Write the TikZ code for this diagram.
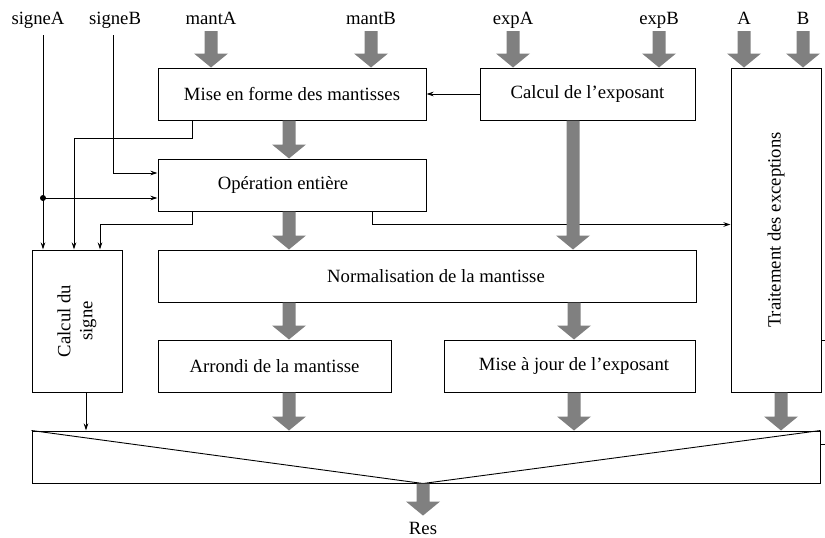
\documentclass[tikz,border=0pt]{standalone}
\usepackage{fontspec}
\setmainfont{Liberation Serif}
\usetikzlibrary{arrows.meta,calc}
\definecolor{fatgray}{RGB}{128,128,128}
\tikzset{
  box/.style={draw, line width=1pt, rectangle, inner sep=0pt, align=center},
  sig/.style={line width=0.9pt},
  sigarrow/.style={sig, -{Stealth[length=7pt,width=4.5pt]}},
  lbl/.style={inner sep=0pt, anchor=base},
  rlbl/.style={inner sep=0pt, rotate=90, align=center},
}
% wide grey data-path arrow pointing down, from #1 to #2
\newcommand{\fatarrow}[2]{%
  \fill[fatgray] let \p1=#1, \p2=#2 in
    (\x1-6.5pt,\y1) -- (\x1+6.5pt,\y1) -- (\x1+6.5pt,\y2+14pt) -- (\x1+17pt,\y2+14pt)
    -- (\x1,\y2) -- (\x1-17pt,\y2+14pt) -- (\x1-6.5pt,\y2+14pt) -- cycle;}
\begin{document}
\begin{tikzpicture}[x=1pt, y=-1pt, font=\fontsize{18.7}{22}\selectfont]
\useasboundingbox (0,0) rectangle (825,538);

% input labels
\node[lbl] (sA)    at (38,24)  {signeA};
\node[lbl] (sB)    at (115,24) {signeB};
\node[lbl] (mantA) at (211,24) {mantA};
\node[lbl] (mantB) at (371,24) {mantB};
\node[lbl] (expA)  at (513,24) {expA};
\node[lbl] (expB)  at (659,24) {expB};
\node[lbl] (inA)   at (744,24) {A};
\node[lbl] (inB)   at (803,24) {B};

% processing blocks
\node[box, minimum width=268pt, minimum height=52pt] (mef)  at (292,94)    {Mise en forme des mantisses};
\node[box, minimum width=215pt, minimum height=52pt] (exp)  at (587.5,94)  {Calcul de l'exposant};
\node[box, minimum width=268pt, minimum height=52pt] (op)   at (292,185)   {Opération entière\hspace*{18pt}};
\node[box, minimum width=90pt,  minimum height=142pt] (sgn) at (77,321)    {};
\node[rlbl] at (sgn.center) {Calcul du\\signe};
\node[box, minimum width=538pt, minimum height=52pt] (norm) at (427,276)   {\hspace*{18pt}Normalisation de la mantisse};
\node[box, minimum width=233pt, minimum height=52pt] (arr)  at (274.5,366) {Arrondi de la mantisse};
\node[box, minimum width=251pt, minimum height=52pt] (maj)  at (569.5,366) {\hspace*{9pt}Mise à jour de l'exposant};
\node[box, minimum width=90pt,  minimum height=324pt] (trait) at (776,230) {};
\node[rlbl] at (trait.center) {Traitement des exceptions};
\node[box, minimum width=788pt, minimum height=52pt] (mux)  at (426,457)   {};
\node[lbl] (res) at (423,534) {Res};

% columns used by the connectors
\coordinate (sAtop) at (43,35);
\coordinate (sBtop) at (113,35);
\coordinate (c74)  at (74,0);
\coordinate (c86)  at (86,0);
\coordinate (c100) at (100,0);
\coordinate (c192) at (192,0);
\coordinate (c372) at (372,0);
\coordinate (xL)   at (289,0);
\coordinate (xR)   at (574,0);
\coordinate (xE)   at (573,0);
\coordinate (xT)   at (781,0);
\coordinate (dot)  at (43,198);

% multiplexer
\draw[sig] (mux.north west) -- (mux.south -| res.base) -- (mux.north east);

% sign and control wires
\draw[sigarrow] (sAtop) -- (sgn.north -| sAtop);
\fill (dot) circle (3pt);
\draw[sigarrow] (dot) -- (op.west |- dot);
\draw[sigarrow] (sBtop) |- ([yshift=12pt]op.west);
\draw[sigarrow] (mef.south -| c192) -- ++(0,18) -| (sgn.north -| c74);
\draw[sigarrow] (op.south -| c192) -- ++(0,13) -| (sgn.north -| c100);
\draw[sigarrow] (op.south -| c372) -- ++(0,13) coordinate (k) -- (k -| trait.west);
\draw[sigarrow] (exp.west) -- (mef.east);
\draw[sigarrow] (sgn.south -| c86) -- (mux.north -| c86);
\draw[sig] ([yshift=-110pt]trait.east) -- ++(5,0);
\draw[sig] ([yshift=-14pt]mux.north east) -- ++(6,0);

% data paths
\fatarrow{([yshift=-7pt]mantA.base)}{(mef.north -| mantA.base)}
\fatarrow{([yshift=-7pt]mantB.base)}{(mef.north -| mantB.base)}
\fatarrow{([yshift=-7pt]expA.base)}{(exp.north -| expA.base)}
\fatarrow{([yshift=-7pt]expB.base)}{(exp.north -| expB.base)}
\fatarrow{([yshift=-7pt]inA.base)}{(trait.north -| inA.base)}
\fatarrow{([yshift=-7pt]inB.base)}{(trait.north -| inB.base)}
\fatarrow{(mef.south -| xL)}{(op.north -| xL)}
\fatarrow{(op.south -| xL)}{(norm.north -| xL)}
\fatarrow{(exp.south -| xE)}{(norm.north -| xE)}
\fatarrow{(norm.south -| xL)}{(arr.north -| xL)}
\fatarrow{(norm.south -| xR)}{(maj.north -| xR)}
\fatarrow{(arr.south -| xL)}{(mux.north -| xL)}
\fatarrow{(maj.south -| xR)}{(mux.north -| xR)}
\fatarrow{(trait.south -| xT)}{(mux.north -| xT)}
\fatarrow{(mux.south -| res.base)}{([yshift=6pt]res.north)}
\end{tikzpicture}
\end{document}
